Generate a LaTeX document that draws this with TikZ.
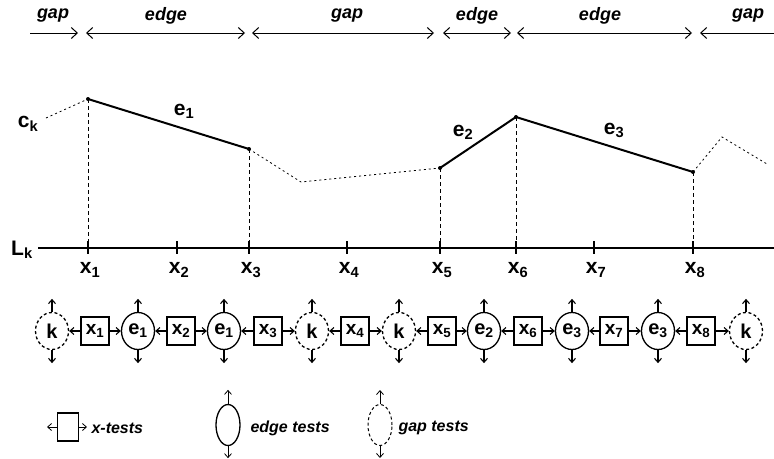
\documentclass[tikz,border=0pt]{standalone}
\usepackage{fontspec}
\setsansfont{Liberation Sans}
\usetikzlibrary{arrows.meta,shapes.geometric}

\newcommand{\lsub}[2]{#1\textsubscript{#2}}

\begin{document}
\begin{tikzpicture}[
  x=1pt, y=-1pt,
  arrow/.style={-{Straight Barb[length=4pt,width=7pt]}, line width=1.1pt},
  span/.style={{Straight Barb[length=6pt,width=11pt]}-{Straight Barb[length=6pt,width=11pt]}, line width=1pt},
  spanr/.style={-{Straight Barb[length=6pt,width=11pt]}, line width=1pt},
  spanl/.style={{Straight Barb[length=6pt,width=11pt]}-, line width=1pt},
  word/.style={font=\sffamily\bfseries\itshape\fontsize{18}{22}\selectfont},
  legend/.style={font=\sffamily\bfseries\itshape\fontsize{16}{20}\selectfont},
  var/.style={font=\sffamily\bfseries\fontsize{21}{24}\selectfont},
  xbox/.style={rectangle, draw, line width=1.3pt, minimum width=28pt, minimum height=28pt, inner sep=0pt, font=\sffamily\bfseries\fontsize{19}{22}\selectfont},
  etest/.style={ellipse, draw, line width=1.3pt, minimum width=33pt, minimum height=37pt, inner sep=0pt, font=\sffamily\bfseries\fontsize{20}{22}\selectfont},
  gtest/.style={etest, dash pattern=on 3pt off 2.5pt},
  vert/.style={dash pattern=on 4pt off 3pt, line width=0.8pt},
  gapline/.style={dash pattern=on 2pt off 3pt, line width=0.8pt}
]

\useasboundingbox (0,0) rectangle (774,458);

% Spans along the top
\draw[spanr] (30,33) -- (78,33);
\draw[span] (86,33) -- (245,33);
\draw[span] (252,33) -- (434,33);
\draw[span] (443,33) -- (511,33);
\draw[span] (517,33) -- (692,33);
\draw[spanl] (700,33) -- (774,33);
\node[word] (sg1) at (53,16) {gap};
\node[word] (se1) at (166,16) {edge};
\node[word] (sg2) at (347,16) {gap};
\node[word] (se2) at (477,16) {edge};
\node[word] (se3) at (600,16) {edge};
\node[word] (sg3) at (748,16) {gap};

% Curve c_k
\coordinate (c0) at (46,118);
\coordinate (c1) at (88,99);
\coordinate (c2) at (249,149);
\coordinate (c3) at (301,182);
\coordinate (c4) at (440,168);
\coordinate (c5) at (516,117);
\coordinate (c6) at (693,172);
\coordinate (c7) at (722,137);
\coordinate (c8) at (767,164);
\draw[gapline] (c0) -- (c1);
\draw[line width=2pt] (c1) -- (c2);
\draw[gapline] (c2) -- (c3) -- (c4);
\draw[line width=2pt, line join=round] (c4) -- (c5) -- (c6);
\draw[gapline] (c6) -- (c7) -- (c8);
\foreach \p in {c1,c2,c4,c5,c6} \fill (\p) circle (2);
\node[var] (ck) at (28,124) {\lsub{c}{k}};
\node[var] (le1) at (184,111) {\lsub{e}{1}};
\node[var] (le2) at (463,132) {\lsub{e}{2}};
\node[var] (le3) at (614,130) {\lsub{e}{3}};

% Axis L_k
\draw[line width=1.4pt] (38,248) -- (774,248);
\node[var] (lk) at (22,250) {\lsub{L}{k}};
\foreach \x/\i in {88/1,177/2,249/3,347/4,440/5,516/6,594/7,693/8} {
  \draw[line width=1.4pt] (\x,241) -- (\x,254);
  \node[var] (t\i) at (\x+2,270) {\lsub{x}{\i}};
}
\draw[vert] (c1) -- (88,248);
\draw[vert] (c2) -- (249,248);
\draw[vert] (c4) -- (440,248);
\draw[vert] (c5) -- (516,248);
\draw[vert] (c6) -- (693,248);

% Test sequence
\node[gtest] (gk1) at (52,331) {k};
\node[xbox]  (bx1) at (95,331) {\lsub{x}{1}};
\node[etest] (ea)  at (138,331) {\lsub{e}{1}};
\node[xbox]  (bx2) at (181,331) {\lsub{x}{2}};
\node[etest] (eb)  at (224,331) {\lsub{e}{1}};
\node[xbox]  (bx3) at (268,331) {\lsub{x}{3}};
\node[gtest] (gk2) at (312,331) {k};
\node[xbox]  (bx4) at (355,331) {\lsub{x}{4}};
\node[gtest] (gk3) at (399,331) {k};
\node[xbox]  (bx5) at (442,331) {\lsub{x}{5}};
\node[etest] (ec)  at (484,331) {\lsub{e}{2}};
\node[xbox]  (bx6) at (528,331) {\lsub{x}{6}};
\node[etest] (ed)  at (572,331) {\lsub{e}{3}};
\node[xbox]  (bx7) at (614,331) {\lsub{x}{7}};
\node[etest] (ee)  at (658,331) {\lsub{e}{3}};
\node[xbox]  (bx8) at (701,331) {\lsub{x}{8}};
\node[gtest] (gk4) at (746,331) {k};

\foreach \b/\l/\r in {bx1/gk1/ea, bx2/ea/eb, bx3/eb/gk2, bx4/gk2/gk3,
                      bx5/gk3/ec, bx6/ec/ed, bx7/ed/ee, bx8/ee/gk4} {
  \draw[arrow] (\b) -- (\l);
  \draw[arrow] (\b) -- (\r);
}
\foreach \n in {gk1,ea,eb,gk2,gk3,ec,ed,ee,gk4} {
  \draw[arrow] (\n.north) -- ++(0,-13);
  \draw[arrow] (\n.south) -- ++(0,13);
}

% Legend
\node[xbox, minimum width=21pt] (lgbox) at (68,427) {};
\coordinate (lgboxl) at (47,427);
\coordinate (lgboxr) at (87,427);
\draw[arrow, line width=0.8pt] (lgbox) -- (lgboxl);
\draw[arrow, line width=0.8pt] (lgbox) -- (lgboxr);
\node[legend, anchor=west] (lgboxt) at (88,428) {x-tests};

\node[etest, minimum width=24pt, minimum height=41pt] (lgedge) at (228,425) {};
\draw[arrow, line width=0.8pt] (lgedge.north) -- ++(0,-14);
\draw[arrow, line width=0.8pt] (lgedge.south) -- ++(0,12);
\node[legend, anchor=west] (lgedget) at (247,428) {edge tests};

\node[gtest, minimum width=24pt, minimum height=41pt, line width=1pt] (lggap) at (380,425) {};
\draw[arrow, line width=0.8pt] (lggap.north) -- ++(0,-14);
\draw[arrow, line width=0.8pt] (lggap.south) -- ++(0,12);
\node[legend, anchor=west] (lggapt) at (395,428) {gap tests};

\end{tikzpicture}
\end{document}
